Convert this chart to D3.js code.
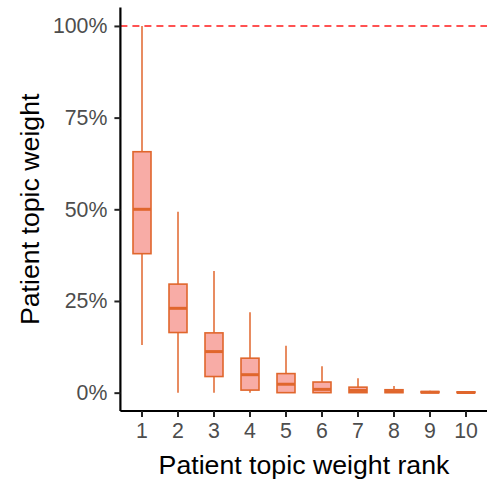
<!DOCTYPE html>
<html>
<head>
<meta charset="utf-8">
<script src="https://cdn.jsdelivr.net/npm/d3@7/dist/d3.min.js"></script>
<style>
  html, body { margin: 0; padding: 0; background: #fff; }
  svg { display: block; }
  .tick text { font-family: "Liberation Sans", Arial, sans-serif; }
</style>
</head>
<body>
<div id="chart"></div>
<script>
// Box-plot summary of patient topic weight by rank
const ranks       = ["1", "2", "3", "4", "5", "6", "7", "8", "9", "10"];
const whiskerLow  = [0.130, 0.000, 0.000, 0.000, 0.000, 0.000, 0.000, 0.000, 0.000, 0.000];
const q1          = [0.379, 0.164, 0.044, 0.007, 0.000, 0.000, 0.000, 0.000, 0.000, 0.000];
const medians     = [0.500, 0.230, 0.112, 0.049, 0.023, 0.009, 0.006, 0.003, 0.001, 0.0005];
const q3          = [0.657, 0.296, 0.163, 0.094, 0.052, 0.029, 0.015, 0.008, 0.003, 0.002];
const whiskerHigh = [1.000, 0.493, 0.332, 0.219, 0.128, 0.072, 0.039, 0.018, 0.005, 0.003];
const yTicks      = [0, 0.25, 0.5, 0.75, 1];
const refLine     = 1;

const W = 487, H = 480;
const panel = { left: 120.4, right: 487.6, top: 7.6, bottom: 411 };

const svg = d3.select("#chart").append("svg")
  .attr("width", W).attr("height", H);

const x = d3.scaleBand()
  .domain(ranks)
  .range([panel.left, panel.right])
  .paddingInner(0)
  .paddingOuter(0.1);

const y = d3.scaleLinear()
  .domain([-0.05, 1.05])
  .range([panel.bottom, panel.top]);

const boxW = x.step() * 0.5;
const stroke = "#e0662c";
const fill = "#f8aca6";

const data = ranks.map((r, i) => ({
  rank: r, lo: whiskerLow[i], q1: q1[i], med: medians[i], q3: q3[i], hi: whiskerHigh[i]
}));

// reference line at 100%
svg.append("line")
  .attr("x1", panel.left).attr("x2", W)
  .attr("y1", y(refLine)).attr("y2", y(refLine))
  .attr("stroke", "#ff1a1a").attr("stroke-width", 1.4)
  .attr("stroke-dasharray", "7,5");

const g = svg.append("g").selectAll("g.box").data(data).join("g").attr("class", "box");
const cx = d => x(d.rank) + x.bandwidth() / 2;

g.append("line")
  .attr("x1", cx).attr("x2", cx)
  .attr("y1", d => y(d.q3)).attr("y2", d => y(d.hi))
  .attr("stroke", stroke).attr("stroke-width", 1.5);
g.append("line")
  .attr("x1", cx).attr("x2", cx)
  .attr("y1", d => y(d.q1)).attr("y2", d => y(d.lo))
  .attr("stroke", stroke).attr("stroke-width", 1.5);
g.append("rect")
  .attr("x", d => cx(d) - boxW / 2)
  .attr("width", boxW)
  .attr("y", d => y(d.q3))
  .attr("height", d => Math.max(0, y(d.q1) - y(d.q3)))
  .attr("fill", fill)
  .attr("stroke", stroke).attr("stroke-width", 1.6);
g.append("line")
  .attr("x1", d => cx(d) - boxW / 2).attr("x2", d => cx(d) + boxW / 2)
  .attr("y1", d => y(d.med)).attr("y2", d => y(d.med))
  .attr("stroke", stroke).attr("stroke-width", 3);

// axes
const yAxis = svg.append("g")
  .attr("transform", `translate(${panel.left},0)`)
  .call(d3.axisLeft(y).tickValues(yTicks).tickFormat(d3.format(".0%")).tickSize(6).tickPadding(7));
const xAxis = svg.append("g")
  .attr("transform", `translate(0,${panel.bottom})`)
  .call(d3.axisBottom(x).tickSize(6).tickPadding(6));

[yAxis, xAxis].forEach(a => {
  a.select(".domain").attr("stroke", "#000").attr("stroke-width", 2.2);
  a.selectAll(".tick line").attr("stroke", "#222").attr("stroke-width", 2);
  a.selectAll(".tick text").attr("fill", "#4d4d4d").style("font-size", "21.3px");
});
yAxis.select(".domain").attr("d", `M0,${panel.bottom}V${panel.top}`);
xAxis.select(".domain").attr("d", `M${panel.left},0H${W}`);

svg.append("text")
  .attr("x", (panel.left + panel.right) / 2).attr("y", 474)
  .attr("text-anchor", "middle")
  .style("font-family", "'Liberation Sans', Arial, sans-serif")
  .style("font-size", "26.7px").attr("fill", "#000")
  .text("Patient topic weight rank");

svg.append("text")
  .attr("transform", `translate(39,${(panel.top + panel.bottom) / 2}) rotate(-90)`)
  .attr("text-anchor", "middle")
  .style("font-family", "'Liberation Sans', Arial, sans-serif")
  .style("font-size", "26.7px").attr("fill", "#000")
  .text("Patient topic weight");
</script>
</body>
</html>
